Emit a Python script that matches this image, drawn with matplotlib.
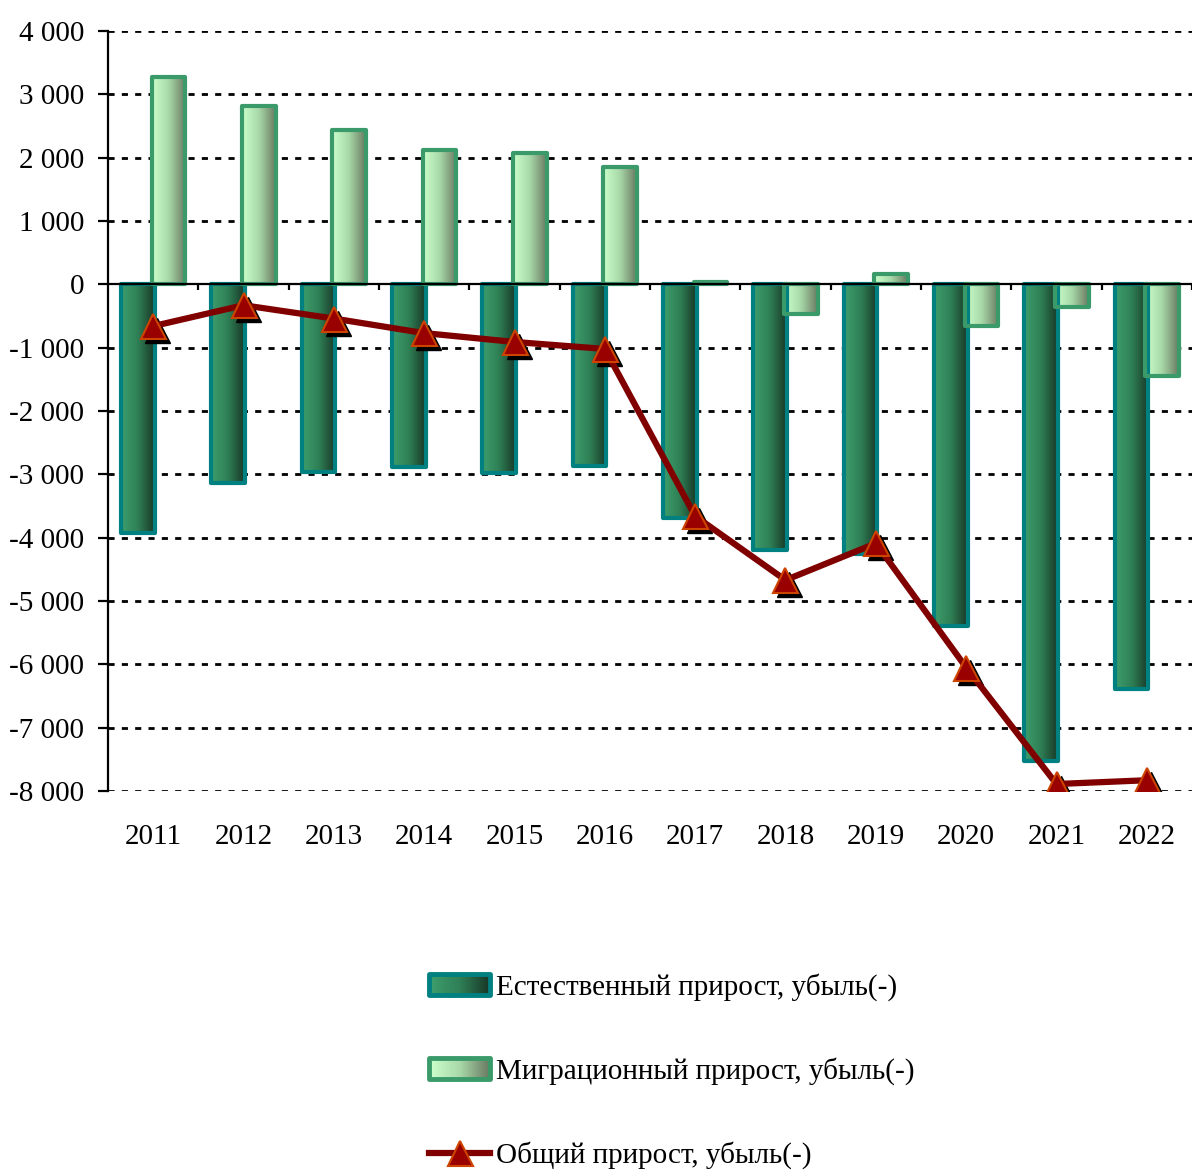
import numpy as np
import matplotlib
matplotlib.use("Agg")
import matplotlib.pyplot as plt
from matplotlib.patches import Rectangle
from matplotlib.lines import Line2D
from matplotlib.legend_handler import HandlerBase
from matplotlib.colors import LinearSegmentedColormap
import matplotlib.transforms as mtransforms

plt.rcParams['font.family'] = ['Liberation Serif', 'DejaVu Serif']

years = ['2011', '2012', '2013', '2014', '2015', '2016', '2017', '2018', '2019', '2020', '2021', '2022']
natural = [-3930, -3140, -2970, -2890, -2980, -2870, -3690, -4200, -4250, -5400, -7530, -6390]
migration = [3270, 2810, 2430, 2120, 2070, 1850, 30, -470, 160, -650, -360, -1440]
total = [-660, -330, -540, -770, -910, -1020, -3660, -4670, -4090, -6050, -7890, -7830]
yticks = list(range(-8000, 4001, 1000))

labels = ['Естественный прирост, убыль(-)', 'Миграционный прирост, убыль(-)', 'Общий прирост, убыль(-)']

nat_cmap = LinearSegmentedColormap.from_list('nat', ['#3d9e6c', '#2f7f55', '#183828'])
mig_cmap = LinearSegmentedColormap.from_list('mig', ['#ccffcc', '#a8d8a8', '#6a7a62'])
nat_edge = '#008080'
mig_edge = '#3a9a6a'
line_color = '#800000'
FS = 21

W, H = 1193, 1170
fig = plt.figure(figsize=(W / 100, H / 100), dpi=100)
ax = fig.add_axes([108 / W, 1 - 791 / H, (1192 - 108) / W, (791 - 31) / H])

x = np.arange(len(years))
bw = 0.37
off = 0.17
grad = np.linspace(0, 1, 64).reshape(1, -1)


def gradient_bars(xpos, vals, cmap, edge):
    bars = ax.bar(xpos, vals, width=bw, facecolor='none', edgecolor=edge,
                  linewidth=3, joinstyle='round', zorder=3)
    for b in bars:
        x0, y0 = b.get_x(), b.get_y()
        w, h = b.get_width(), b.get_height()
        im = ax.imshow(grad, cmap=cmap, aspect='auto', interpolation='bicubic',
                       extent=[x0, x0 + w, y0, y0 + h], zorder=2.5)
        clip = Rectangle((x0, y0), w, h, transform=ax.transData)
        im.set_clip_path(clip)
    return bars


gradient_bars(x - off, natural, nat_cmap, nat_edge)
gradient_bars(x + off, migration, mig_cmap, mig_edge)

ax.axhline(0, color='black', linewidth=1.6, zorder=4)

# category boundary ticks on the zero line
bound = np.arange(len(years) + 1) - 0.5
ax.vlines(bound[1:], 0, -90, color='black', linewidth=1.6, zorder=4)

# total line with shadowed markers
MS = 18
shadow = mtransforms.offset_copy(ax.transData, fig=fig, x=4, y=-4, units='dots')
ax.plot(x, total, linestyle='none', marker='^', markersize=MS, color='black',
        transform=shadow, zorder=5)
ax.plot(x, total, color=line_color, linewidth=4.5, marker='^', markersize=MS,
        markerfacecolor='#990000', markeredgecolor='#cc4400', markeredgewidth=1.5,
        zorder=6)

ax.set_xlim(-0.5, len(years) - 0.5)
ax.set_ylim(-8000, 4000)
ax.set_yticks(yticks)
ax.set_yticklabels([f'{v:,}'.replace(',', ' ') for v in yticks], fontsize=FS)
for v in yticks:
    if v != 0:
        ax.axhline(v, color='black', linewidth=2, linestyle=(0, (2.2, 2.6)), zorder=1)

ax.set_xticks(x)
ax.set_xticklabels(years, fontsize=FS)
ax.tick_params(axis='x', length=0, pad=24)
ax.tick_params(axis='y', length=7, width=1.6, direction='out', pad=10)

for s in ['top', 'right', 'bottom']:
    ax.spines[s].set_visible(False)
ax.spines['left'].set_linewidth(1.6)


class GradHandler(HandlerBase):
    def __init__(self, cmap, edge):
        super().__init__()
        self.cmap = cmap
        self.edge = edge

    def create_artists(self, legend, orig_handle, xdescent, ydescent, width, height, fontsize, trans):
        arts = []
        n = 30
        h = height
        y0 = -ydescent
        for i in range(n):
            r = Rectangle((-xdescent + width * i / n, y0), width / n + 0.3, h,
                          facecolor=self.cmap(i / (n - 1)), edgecolor='none', transform=trans)
            arts.append(r)
        border = Rectangle((-xdescent, y0), width, h, facecolor='none',
                           edgecolor=self.edge, linewidth=3.5, joinstyle='round', transform=trans)
        arts.append(border)
        return arts


h1 = Rectangle((0, 0), 1, 1)
h2 = Rectangle((0, 0), 1, 1, label='m')
h3 = Line2D([], [], color=line_color, linewidth=4.5, marker='^', markersize=MS,
            markerfacecolor='#990000', markeredgecolor='#cc4400', markeredgewidth=1.5)

leg = fig.legend([h1, h2, h3], labels, loc='upper left',
                 bbox_to_anchor=(429 / W, 1 - 973 / H), frameon=False,
                 fontsize=FS, labelspacing=1.93, handlelength=2.1, handletextpad=0.18,
                 borderpad=0, borderaxespad=0, handleheight=0.7,
                 handler_map={h1: GradHandler(nat_cmap, nat_edge),
                              h2: GradHandler(mig_cmap, mig_edge)})

fig.savefig('out.png', dpi=100)
